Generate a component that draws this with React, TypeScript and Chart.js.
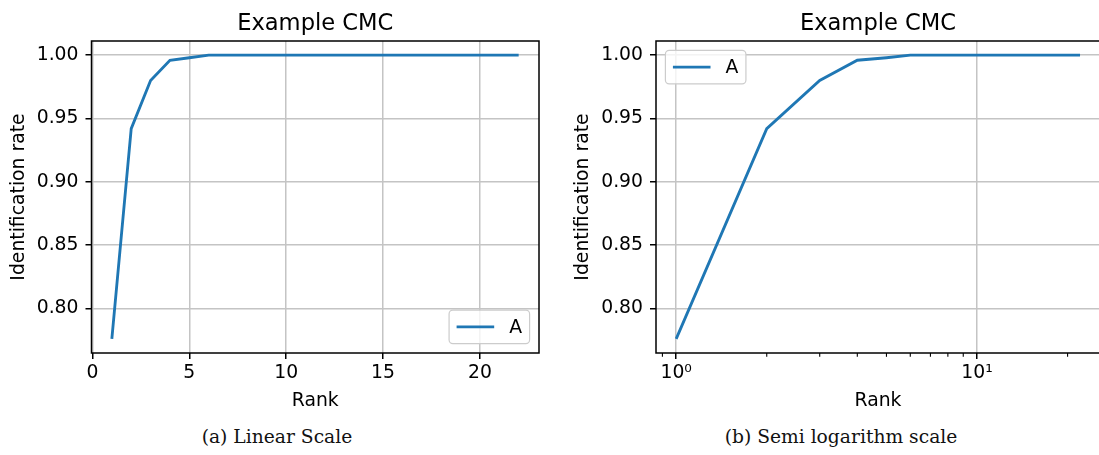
import React, { useEffect, useRef } from 'react';
import { Chart, registerables } from 'chart.js';

Chart.register(...registerables);

// ---------- data ----------
const ranks = [1, 2, 3, 4, 5, 6, 7, 8, 9, 10, 11, 12, 13, 14, 15, 16, 17, 18, 19, 20, 21, 22];
const rateA = [0.776, 0.942, 0.98, 0.996, 0.998, 1.0, 1.0, 1.0, 1.0, 1.0, 1.0, 1.0, 1.0, 1.0, 1.0, 1.0, 1.0, 1.0, 1.0, 1.0, 1.0, 1.0];
const seriesLabel = 'A';
const yTicks = [0.8, 0.85, 0.9, 0.95, 1.0];
const linearXTicks = [0, 5, 10, 15, 20];
const logMajorTicks = [1, 10];
const logMajorLabels = ['10\u2070', '10\u00b9'];
const logMinorTicks = [0.9, 2, 3, 4, 5, 6, 7, 8, 9, 20];
const chartTitle = 'Example CMC';
const xLabel = 'Rank';
const yLabel = 'Identification rate';
const captions = ['(a) Linear Scale', '(b) Semi logarithm scale'];

// ---------- style ----------
const FONT = "'DejaVu Sans'";
const FS = 18.8;
const TITLE_FS = 22.6;
const LINE_COLOR = '#1f77b4';
const GRID_COLOR = '#c4c4c4';

const Y_MIN = 0.7648;
const Y_MAX = 1.0112;

const decorPlugin = {
  id: 'cmcDecor',
  afterDraw(chart: any, _args: any, opts: any) {
    const { ctx, chartArea: a } = chart;
    ctx.save();
    // minor ticks (log axis)
    if (opts.minorTicks) {
      const xs = chart.scales.x;
      ctx.strokeStyle = '#000';
      ctx.lineWidth = 1.1;
      for (const v of opts.minorTicks) {
        const px = xs.getPixelForValue(v);
        if (px < a.left - 0.5 || px > a.right + 0.5) continue;
        ctx.beginPath();
        ctx.moveTo(px, a.bottom);
        ctx.lineTo(px, a.bottom + 3.8);
        ctx.stroke();
      }
    }
    // legend
    const ds = chart.data.datasets[0];
    ctx.font = `${FS}px ${FONT}`;
    const pad = 0.4 * FS;
    const handle = 2 * FS;
    const htp = 0.8 * FS;
    const tw = ctx.measureText(ds.label).width;
    const w = pad + handle + htp + tw + pad;
    const h = 2 * pad + FS * 0.98;
    const off = 9.4;
    let bx: number, by: number;
    if (opts.legendPos === 'lower right') {
      bx = a.right - off - w;
      by = a.bottom - off - h;
    } else {
      bx = a.left + off;
      by = a.top + off;
    }
    const r = 3.8;
    ctx.beginPath();
    ctx.moveTo(bx + r, by);
    ctx.lineTo(bx + w - r, by);
    ctx.arcTo(bx + w, by, bx + w, by + r, r);
    ctx.lineTo(bx + w, by + h - r);
    ctx.arcTo(bx + w, by + h, bx + w - r, by + h, r);
    ctx.lineTo(bx + r, by + h);
    ctx.arcTo(bx, by + h, bx, by + h - r, r);
    ctx.lineTo(bx, by + r);
    ctx.arcTo(bx, by, bx + r, by, r);
    ctx.closePath();
    ctx.fillStyle = 'rgba(255,255,255,0.8)';
    ctx.fill();
    ctx.strokeStyle = '#cccccc';
    ctx.lineWidth = 1.2;
    ctx.stroke();
    ctx.strokeStyle = ds.borderColor;
    ctx.lineWidth = 2.85;
    ctx.beginPath();
    ctx.moveTo(bx + pad, by + h / 2);
    ctx.lineTo(bx + pad + handle, by + h / 2);
    ctx.stroke();
    ctx.fillStyle = '#000';
    ctx.textAlign = 'left';
    ctx.textBaseline = 'middle';
    ctx.fillText(ds.label, bx + pad + handle + htp, by + h / 2 + 1);
    // spines
    ctx.strokeStyle = '#000';
    ctx.lineWidth = 1.5;
    ctx.strokeRect(a.left, a.top, a.right - a.left, a.bottom - a.top);
    // title
    ctx.font = `${TITLE_FS}px ${FONT}`;
    ctx.textAlign = 'center';
    ctx.textBaseline = 'alphabetic';
    ctx.fillStyle = '#000';
    ctx.fillText(opts.title, (a.left + a.right) / 2, a.top - 11.4);
    ctx.restore();
  },
};

function makeConfig(isLog: boolean): any {
  const xScale: any = isLog
    ? {
        type: 'logarithmic',
        min: Math.pow(10, -0.0671),
        max: Math.pow(10, 1.4088),
        afterBuildTicks: (s: any) => {
          s.ticks = [...logMinorTicks, ...logMajorTicks].sort((p, q) => p - q).map((v) => ({ value: v }));
        },
        ticks: {
          autoSkip: false,
          maxRotation: 0,
          minRotation: 0,
          color: '#000',
          padding: 2.5,
          font: { family: FONT, size: FS },
          callback: (v: number) => {
            const i = logMajorTicks.indexOf(v);
            return i >= 0 ? logMajorLabels[i] : '';
          },
        },
        grid: {
          color: (c: any) => (c.tick && logMajorTicks.includes(c.tick.value) ? GRID_COLOR : 'rgba(0,0,0,0)'),
          tickColor: (c: any) => (c.tick && logMajorTicks.includes(c.tick.value) ? '#000' : 'rgba(0,0,0,0)'),
          lineWidth: 1.5,
          tickWidth: 1.5,
          tickLength: 6,
        },
        border: { display: false },
        title: { display: true, text: xLabel, color: '#000', font: { family: FONT, size: FS }, padding: { top: 0, bottom: 2.7 } },
        afterFit: (s: any) => {
          s.height = 62;
        },
      }
    : {
        type: 'linear',
        min: -0.05,
        max: 23.05,
        afterBuildTicks: (s: any) => {
          s.ticks = linearXTicks.map((v) => ({ value: v }));
        },
        ticks: {
          autoSkip: false,
          maxRotation: 0,
          minRotation: 0,
          color: '#000',
          padding: 2.5,
          font: { family: FONT, size: FS },
          callback: (v: number) => String(v),
        },
        grid: { color: GRID_COLOR, tickColor: '#000', lineWidth: 1.5, tickWidth: 1.5, tickLength: 6 },
        border: { display: false },
        title: { display: true, text: xLabel, color: '#000', font: { family: FONT, size: FS }, padding: { top: 0, bottom: 2.7 } },
        afterFit: (s: any) => {
          s.height = 62;
        },
      };

  return {
    type: 'line',
    data: {
      datasets: [
        {
          label: seriesLabel,
          data: ranks.map((r, i) => ({ x: r, y: rateA[i] })),
          borderColor: LINE_COLOR,
          backgroundColor: LINE_COLOR,
          borderWidth: 2.85,
          pointRadius: 0,
          tension: 0,
          fill: false,
        },
      ],
    },
    options: {
      responsive: false,
      animation: false,
      devicePixelRatio: 1,
      layout: { padding: { top: 41, left: 0, right: isLog ? 0 : 11, bottom: 0 } },
      plugins: {
        legend: { display: false },
        title: { display: false },
        tooltip: { enabled: false },
        cmcDecor: {
          title: chartTitle,
          legendPos: isLog ? 'upper left' : 'lower right',
          minorTicks: isLog ? logMinorTicks : null,
        },
      },
      scales: {
        x: xScale,
        y: {
          type: 'linear',
          min: Y_MIN,
          max: Y_MAX,
          afterBuildTicks: (s: any) => {
            s.ticks = yTicks.map((v) => ({ value: v }));
          },
          ticks: {
            color: '#000',
            padding: 7,
            font: { family: FONT, size: FS },
            callback: (v: number) => v.toFixed(2),
          },
          grid: { color: GRID_COLOR, tickColor: '#000', lineWidth: 1.5, tickWidth: 1.5, tickLength: 6 },
          border: { display: false },
          title: {
            display: true,
            text: yLabel,
            color: '#000',
            font: { family: FONT, size: FS },
            padding: { top: isLog ? 12.2 : 7.7, bottom: 0 },
          },
          afterFit: (s: any) => {
            s.width = isLog ? 96 : 91.5;
          },
        },
      },
    },
    plugins: [decorPlugin],
  };
}

function CMCChart({ isLog, left, width }: { isLog: boolean; left: number; width: number }) {
  const ref = useRef<HTMLCanvasElement>(null);
  useEffect(() => {
    if (!ref.current) return;
    const chart = new Chart(ref.current, makeConfig(isLog));
    return () => chart.destroy();
  }, [isLog]);
  return (
    <canvas
      ref={ref}
      width={width}
      height={415}
      style={{ position: 'absolute', left, top: 0, width, height: 415 }}
    />
  );
}

export default function App() {
  const capStyle: React.CSSProperties = {
    position: 'absolute',
    top: 424,
    height: 26,
    lineHeight: '26px',
    textAlign: 'center',
    fontFamily: "'DejaVu Serif', serif",
    fontSize: 18.7,
    color: '#111',
    whiteSpace: 'nowrap',
  };
  return (
    <div
      style={{
        position: 'fixed',
        left: 0,
        top: 0,
        width: 1099,
        height: 455,
        overflow: 'hidden',
        background: '#fff',
      }}
    >
      <CMCChart isLog={false} left={0} width={550} />
      <CMCChart isLog={true} left={560} width={540} />
      <div style={{ ...capStyle, left: 0, width: 554 }}>{captions[0]}</div>
      <div style={{ ...capStyle, left: 560, width: 562 }}>{captions[1]}</div>
    </div>
  );
}
